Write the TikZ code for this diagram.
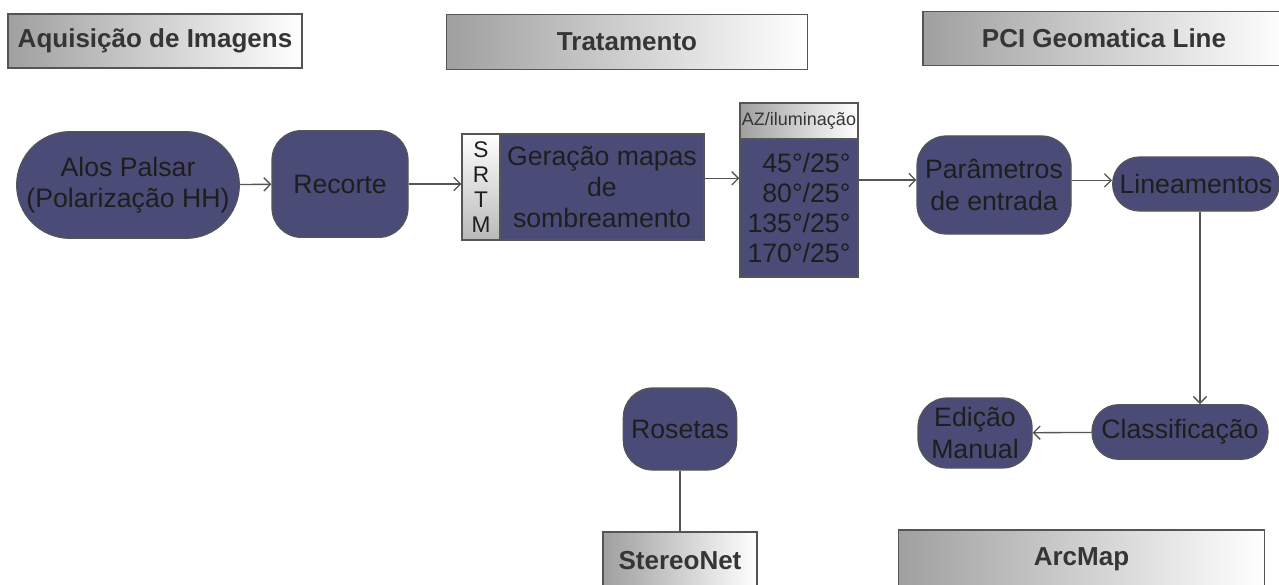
\documentclass[tikz,border=0pt]{standalone}
\usepackage{fontspec}
\setmainfont{Liberation Sans}
\usetikzlibrary{arrows,arrows.meta,positioning}
\definecolor{azul}{HTML}{4B4B77}
\definecolor{borda}{HTML}{555555}
\definecolor{texto}{HTML}{1E1E1E}
\tikzset{pr/.append style={draw=borda,line width=0.9pt,fill=azul,text=texto,align=center,inner sep=0pt,font=\fontsize{20}{23.5}\selectfont,rounded corners=22pt}}
\tikzset{cab/.append style={draw=borda,line width=0.9pt,left color=gray!75,right color=white,text=texto!90,inner sep=0pt,font=\fontsize{19.5}{22}\selectfont\bfseries}}
\tikzset{seta/.append style={-{Straight Barb[length=5pt,width=10pt]},draw=borda,line width=1pt}}

\begin{document}
\begin{tikzpicture}[x=0.75pt,y=-0.75pt]
                \clip (0,0) rectangle (1279,585);
                % cabecalhos
                \node[cab,minimum width=220.5pt,minimum height=40.5pt] (aq) at (155,41) {Aquisição de Imagens};
                \node[cab,minimum width=271pt,minimum height=41pt] (tr) at (627,42) {Tratamento};
                \node[cab,minimum width=271.5pt,minimum height=41pt] (pci) at (1104,38.5) {PCI Geomatica Line};
                \node[cab,minimum width=115.5pt,minimum height=43.5pt] (sn) at (680,561) {StereoNet};
                \node[cab,minimum width=275pt,minimum height=43.5pt] (am) at (1081.5,559) {ArcMap};
                % processos
                \node[pr,minimum width=167pt,minimum height=80pt,rounded corners=40pt] (alos) at (128,185) {Alos Palsar\\(Polarização HH)};
                \node[pr,minimum width=102pt,minimum height=80pt] (rec) at (340,184) {Recorte};
                \node[draw=borda,line width=0.9pt,top color=white,bottom color=gray!55,text=texto,align=center,inner sep=0pt,
                      minimum width=28.5pt,minimum height=79.5pt,font=\fontsize{17}{18.75}\selectfont] (srtm) at (481,187) {S\\R\\T\\M};
                \node[pr,rounded corners=0pt,minimum width=153pt,minimum height=79.5pt] (ger) at (602,187) {Geração mapas\\de\\sombreamento};
                \node[cab,minimum width=88.5pt,minimum height=27pt,font=\fontsize{13.5}{16}\selectfont] (az) at (799,121) {AZ/iluminação};
                \node[pr,rounded corners=0pt,minimum width=88.5pt,minimum height=103.5pt,align=right,font=\fontsize{20}{22.5}\selectfont] (ang) at (799,208) {45°/25°\\80°/25°\\135°/25°\\170°/25°};
                \node[pr,minimum width=115.5pt,minimum height=73.5pt] (par) at (994,185) {Parâmetros\\de entrada};
                \node[pr,minimum width=125pt,minimum height=40.5pt,rounded corners=20pt] (lin) at (1196,184) {Lineamentos};
                \node[pr,minimum width=132pt,minimum height=41pt,rounded corners=20pt] (cls) at (1180,432) {Classificação};
                \node[pr,minimum width=85.5pt,minimum height=52.5pt] (ed) at (975,433) {Edição\\Manual};
                \node[pr,minimum width=85pt,minimum height=61.5pt] (ros) at (680,429) {Rosetas};
                % ligacoes
                \path (alos) edge[seta] (rec);
                \path (rec.east) edge[seta] (rec.east -| srtm.west);
                \path ([yshift=6.5pt]ger.east) edge[seta] ([yshift=6.5pt]ger.east -| ang.west);
                \path ([yshift=21pt]ang.east) edge[seta] ([yshift=21pt]ang.east -| par.west);
                \path ([yshift=3.5pt]par.east) edge[seta] ([yshift=3.5pt]par.east -| lin.west);
                \path ([xshift=3pt]lin.south) edge[seta] ([xshift=3pt]lin.south |- cls.north);
                \path (cls) edge[seta] (ed);
                \path (ros) edge[draw=borda,line width=1pt] (sn);
            \end{tikzpicture}
\end{document}
